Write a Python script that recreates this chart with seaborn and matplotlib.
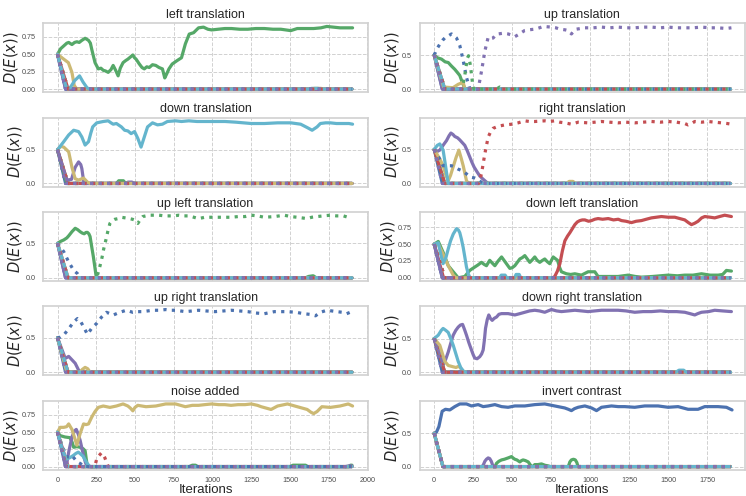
import matplotlib
matplotlib.use("Agg")
import matplotlib.pyplot as plt
import seaborn as sns
from matplotlib.ticker import FormatStrFormatter

# Classic seaborn "deep" colours, one per model output
COLOURS = {
    "blue": "#4C72B0", "green": "#55A868", "red": "#C44E52",
    "purple": "#8172B2", "yellow": "#CCB974", "cyan": "#64B5CD",
}
SOLID_ORDER = ["blue", "green", "red", "purple", "yellow", "cyan"]
DOTTED_ORDER = ["blue", "green", "yellow", "cyan", "red", "purple"]
STYLES = {"solid": "-", "dotted": ":"}

# Curves that fall straight from the starting value of 0.5 to zero
DROP_FAST = [(0, 0.5), (52, 0.0), (1900, 0.0)]
DROP_SLOW = [(0, 0.5), (68, 0.0), (1900, 0.0)]
DROP_INVERT = [(0, 0.5), (56, 0.0), (1900, 0.0)]

# ---- left translation ----
LEFT_GREEN = [(0, .50), (20, .58), (40, .62), (60, .66), (72, .67), (93, .64), (110, .67), (125, .68),
              (140, .67), (157, .70), (178, .73), (200, .70), (212, .66), (221, .57), (232, .47), (242, .38),
              (263, .29), (280, .30), (295, .27), (310, .26), (327, .24), (345, .28), (359, .34), (375, .27),
              (391, .19), (405, .30), (423, .38), (440, .41), (454, .43), (470, .46), (486, .49), (497, .45),
              (507, .43), (528, .36), (545, .31), (560, .29), (576, .32), (592, .31), (613, .35), (634, .34),
              (655, .31), (677, .29), (692, .16), (705, .22), (719, .29), (740, .36), (772, .41), (800, .45),
              (825, .65), (850, .79), (878, .81), (910, .88), (942, .89), (970, .86), (995, .85), (1037, .86),
              (1080, .87), (1122, .87), (1175, .86), (1228, .86), (1280, .87), (1335, .87), (1390, .86),
              (1441, .86), (1505, .84), (1547, .87), (1600, .87), (1653, .87), (1700, .88), (1738, .90),
              (1780, .89), (1823, .88), (1870, .88), (1904, .88)]
LEFT_YELLOW = [(0, .5), (40, .43), (70, .38), (93, .24), (108, .05), (125, 0), (1630, 0), (1660, .01),
               (1700, .01), (1720, 0), (1900, 0)]
LEFT_CYAN = [(0, .5), (55, .03), (82, .02), (110, .12), (142, .19), (165, .10), (190, .02), (205, 0),
             (1620, 0), (1640, .01), (1680, .01), (1700, 0), (1900, 0)]

# ---- up translation ----
UP_PURPLE_DOT = [(0, .5), (60, 0), (282, 0), (304, .27), (325, .56), (346, .76), (360, .74), (378, .75),
                 (395, .80), (410, .81), (442, .82), (474, .81), (500, .79), (517, .77), (540, .80),
                 (560, .83), (580, .86), (603, .87), (646, .88), (675, .90), (700, .92), (752, .91),
                 (780, .90), (806, .88), (840, .87), (859, .86), (880, .81), (895, .85), (912, .88),
                 (966, .90), (1020, .90), (1073, .91), (1125, .90), (1179, .91), (1230, .90), (1286, .90),
                 (1340, .91), (1393, .91), (1450, .90), (1500, .91), (1555, .90), (1607, .90), (1660, .90),
                 (1714, .91), (1770, .90), (1821, .90), (1870, .89), (1906, .90)]
UP_BLUE_DOT = [(0, .5), (20, .60), (36, .66), (55, .72), (68, .75), (90, .78), (111, .81), (128, .78),
               (143, .75), (164, .64), (186, .42), (207, .17), (228, .01), (240, 0), (780, 0), (790, .02),
               (800, 0), (1900, 0)]
UP_GREEN_DOT = [(0, .5), (70, 0), (180, 0), (196, .20), (212, .45), (220, .49), (232, .35), (245, .10),
                (255, 0), (400, 0), (420, .03), (440, 0), (1900, 0)]
UP_GREEN = [(0, .5), (20, .46), (47, .44), (70, .40), (90, .39), (110, .34), (132, .29), (150, .24),
            (164, .20), (180, .10), (196, .01), (210, 0), (1900, 0)]
UP_YELLOW = [(0, .5), (60, .03), (120, .02), (154, .07), (186, .10), (196, 0), (1900, 0)]

# ---- down translation ----
DOWN_CYAN = [(0, .5), (20, .56), (40, .62), (72, .72), (104, .79), (120, .78), (136, .77), (157, .69),
             (178, .57), (200, .62), (215, .75), (227, .84), (253, .90), (295, .92), (327, .93), (345, .90),
             (359, .88), (380, .89), (412, .84), (433, .79), (454, .78), (475, .74), (497, .77), (518, .67),
             (539, .54), (560, .69), (581, .84), (613, .90), (645, .87), (677, .88), (709, .92), (762, .93),
             (800, .92), (847, .93), (900, .92), (953, .92), (1020, .92), (1081, .92), (1150, .91),
             (1200, .90), (1250, .89), (1335, .89), (1420, .90), (1505, .90), (1569, .88), (1611, .83),
             (1643, .79), (1675, .84), (1696, .89), (1730, .90), (1760, .90), (1800, .89), (1845, .89),
             (1880, .89), (1904, .88)]
DOWN_YELLOW = [(0, .5), (20, .55), (40, .54), (72, .47), (93, .24), (114, .07), (136, .05), (168, .08),
               (193, .02), (210, 0), (1900, 0)]
DOWN_PURPLE = [(0, .5), (60, .05), (90, .06), (114, .24), (136, .32), (150, .28), (157, .22), (168, .04),
               (180, 0), (440, 0), (455, .02), (480, .02), (495, 0), (1900, 0)]
DOWN_GREEN = [(0, .5), (60, 0), (380, 0), (395, .04), (425, .04), (440, 0), (1900, 0)]

# ---- right translation ----
RIGHT_RED_DOT = [(0, .5), (65, 0), (285, 0), (303, .14), (325, .44), (346, .68), (362, .76), (378, .81),
                 (410, .84), (453, .86), (496, .87), (538, .89), (581, .92), (610, .91), (645, .91),
                 (709, .92), (740, .91), (773, .92), (805, .90), (837, .89), (860, .88), (880, .87),
                 (923, .90), (987, .89), (1030, .90), (1073, .91), (1125, .90), (1179, .89), (1230, .90),
                 (1286, .89), (1340, .90), (1393, .91), (1450, .90), (1500, .91), (1555, .90), (1607, .88),
                 (1628, .86), (1650, .88), (1671, .91), (1715, .90), (1756, .91), (1800, .90), (1842, .89),
                 (1880, .88), (1906, .87)]
RIGHT_PURPLE = [(0, .5), (20, .47), (36, .49), (60, .57), (79, .63), (95, .70), (107, .74), (120, .72),
                (132, .69), (150, .67), (164, .64), (180, .60), (196, .56), (212, .48), (228, .39),
                (242, .31), (256, .24), (275, .17), (292, .11), (310, .07), (325, .04), (345, 0), (1900, 0)]
RIGHT_CYAN = [(0, .5), (20, .56), (36, .58), (57, .49), (70, .30), (79, .16), (90, 0), (1900, 0)]
RIGHT_YELLOW = [(0, .5), (36, .36), (57, .26), (75, .12), (90, .04), (105, .12), (121, .24), (140, .38),
                (158, .49), (172, .38), (186, .26), (207, .04), (220, 0), (850, 0), (865, .03), (890, .03),
                (905, 0), (1900, 0)]
RIGHT_BLUE_DOT = [(0, .5), (30, .38), (57, .26), (85, .26), (111, .26), (132, .24), (154, .21), (175, .19),
                  (196, .16), (218, .12), (239, .09), (260, .08), (282, .06), (300, .02), (315, 0), (1900, 0)]

# ---- up left translation ----
UL_GREEN = [(0, .5), (20, .53), (40, .55), (60, .58), (72, .61), (93, .67), (114, .72), (130, .70),
            (146, .67), (160, .65), (172, .64), (184, .66), (193, .66), (202, .64), (210, .60), (220, .46),
            (231, .31), (240, .17), (248, .04), (257, 0), (1600, 0), (1620, .02), (1650, .03), (1670, 0),
            (1900, 0)]
UL_GREEN_DOT = [(0, .5), (65, 0), (253, 0), (268, .12), (284, .26), (298, .42), (312, .55), (325, .68),
                (338, .79), (352, .83), (369, .85), (390, .86), (412, .88), (440, .87), (465, .86),
                (485, .85), (497, .84), (510, .80), (518, .79), (535, .85), (550, .89), (570, .90),
                (592, .91), (620, .91), (655, .91), (690, .90), (719, .90), (750, .90), (783, .91),
                (815, .90), (847, .90), (880, .88), (910, .86), (950, .88), (995, .88), (1040, .88),
                (1081, .88), (1120, .88), (1166, .89), (1210, .89), (1250, .91), (1290, .90), (1335, .88),
                (1400, .89), (1462, .91), (1505, .89), (1547, .88), (1580, .87), (1611, .86), (1640, .88),
                (1675, .89), (1715, .90), (1760, .91), (1800, .90), (1845, .90), (1888, .87)]
UL_BLUE_DOT = [(0, .5), (40, .38), (72, .23), (104, .11), (129, .06), (146, 0), (1900, 0)]

# ---- down left translation ----
DL_RED = [(0, .5), (60, 0), (760, 0), (773, .02), (790, .10), (806, .21), (822, .40), (838, .55),
          (855, .62), (870, .67), (886, .73), (902, .79), (918, .83), (934, .85), (950, .86), (966, .86),
          (990, .84), (1009, .85), (1030, .87), (1051, .88), (1080, .87), (1116, .88), (1150, .86),
          (1180, .87), (1201, .85), (1230, .84), (1265, .82), (1295, .84), (1329, .85), (1360, .87),
          (1393, .89), (1425, .90), (1457, .91), (1500, .90), (1543, .90), (1575, .88), (1607, .86),
          (1630, .82), (1650, .79), (1670, .81), (1692, .84), (1715, .89), (1735, .91), (1770, .90),
          (1799, .89), (1830, .91), (1863, .93), (1885, .92), (1906, .91)]
DL_CYAN = [(0, .5), (26, .52), (45, .32), (57, .21), (75, .30), (90, .43), (105, .55), (122, .65),
           (143, .73), (155, .71), (164, .67), (175, .57), (186, .45), (197, .30), (207, .16), (218, .06),
           (228, .01), (240, 0), (420, 0), (430, .04), (455, .04), (465, 0), (515, 0), (525, .05),
           (545, .05), (555, 0), (1900, 0)]
DL_GREEN = [(0, .5), (26, .54), (57, .38), (90, .18), (122, .09), (154, 0), (196, .02), (228, .11),
            (260, .16), (280, .19), (303, .23), (320, .20), (335, .18), (356, .26), (372, .22), (389, .18),
            (410, .25), (432, .31), (457, .23), (485, .14), (500, .15), (517, .18), (549, .28), (565, .30),
            (581, .33), (600, .27), (613, .23), (630, .27), (645, .31), (660, .26), (677, .23), (695, .26),
            (709, .28), (725, .24), (741, .21), (763, .31), (791, .26), (805, .15), (816, .09), (848, .06),
            (875, .05), (902, .06), (944, .04), (987, .09), (1030, .09), (1051, .02), (1100, .02),
            (1179, .02), (1244, .04), (1290, .02), (1329, .01), (1400, .02), (1450, .03), (1500, .04),
            (1560, .03), (1607, .04), (1660, .04), (1714, .06), (1770, .04), (1821, .04), (1850, .05),
            (1874, .11), (1906, .10)]
DL_YELLOW = [(0, .5), (26, .5), (57, .35), (90, .18), (122, .04), (140, 0), (1900, 0)]

# ---- up right translation ----
UR_BLUE_DOT = [(0, .5), (20, .51), (40, .54), (72, .63), (104, .73), (129, .78), (146, .75), (168, .66),
               (193, .55), (221, .64), (253, .71), (284, .80), (316, .87), (340, .85), (359, .83),
               (380, .85), (401, .87), (444, .90), (486, .87), (520, .88), (550, .88), (613, .90),
               (650, .90), (698, .91), (730, .90), (762, .90), (825, .88), (870, .89), (910, .90),
               (960, .89), (1016, .88), (1070, .89), (1122, .90), (1175, .89), (1228, .88), (1280, .86),
               (1335, .85), (1399, .88), (1440, .88), (1484, .88), (1540, .87), (1590, .85), (1630, .84),
               (1665, .82), (1696, .87), (1738, .90), (1770, .89), (1802, .88), (1840, .87), (1866, .85),
               (1898, .88)]
UR_PURPLE = [(0, .5), (50, .20), (72, .23), (93, .18), (114, .13), (136, .03), (150, 0), (1900, 0)]
UR_YELLOW = [(0, .5), (60, 0), (145, 0), (160, .04), (178, .07), (195, .05), (210, 0), (1900, 0)]

# ---- down right translation ----
DR_PURPLE = [(0, .5), (40, .25), (57, .11), (75, .20), (90, .30), (106, .43), (122, .55), (138, .62),
             (154, .67), (168, .70), (182, .71), (195, .63), (207, .55), (222, .44), (239, .33), (250, .26),
             (260, .21), (275, .20), (292, .23), (304, .27), (314, .33), (322, .48), (329, .65), (340, .78),
             (350, .85), (360, .80), (372, .77), (385, .80), (400, .82), (415, .86), (432, .87), (474, .87),
             (495, .86), (517, .85), (550, .87), (581, .89), (612, .91), (645, .92), (675, .91), (709, .89),
             (730, .91), (752, .93), (785, .91), (816, .90), (860, .91), (902, .92), (945, .91), (987, .90),
             (1030, .91), (1073, .92), (1125, .92), (1179, .92), (1230, .91), (1286, .89), (1340, .90),
             (1393, .90), (1450, .91), (1500, .90), (1555, .90), (1607, .89), (1640, .87), (1671, .85),
             (1690, .87), (1714, .89), (1760, .90), (1799, .92), (1850, .91), (1906, .90)]
DR_CYAN = [(0, .5), (26, .55), (45, .62), (57, .65), (75, .62), (90, .59), (106, .50), (122, .40),
           (138, .28), (154, .16), (170, .07), (186, .02), (200, 0), (1550, 0), (1570, .03), (1600, .03),
           (1615, 0), (1900, 0)]
DR_YELLOW = [(0, .5), (36, .40), (52, .28), (68, .16), (90, .10), (122, .08), (140, .07), (158, .09),
             (172, .05), (186, .01), (200, 0), (1900, 0)]

# ---- noise added ----
NOISE_YELLOW = [(0, .5), (17, .57), (40, .57), (59, .58), (72, .62), (93, .54), (110, .42), (125, .31),
                (136, .40), (146, .48), (168, .62), (185, .61), (200, .62), (221, .72), (242, .80),
                (263, .86), (295, .88), (338, .86), (380, .88), (423, .91), (454, .88), (470, .85),
                (486, .81), (500, .86), (518, .89), (571, .87), (634, .88), (698, .91), (762, .91),
                (825, .87), (870, .89), (910, .89), (950, .90), (995, .91), (1040, .90), (1080, .90),
                (1120, .89), (1165, .90), (1210, .90), (1250, .91), (1290, .89), (1314, .87), (1378, .83),
                (1420, .88), (1484, .91), (1547, .87), (1611, .83), (1635, .79), (1653, .77), (1675, .80),
                (1706, .87), (1760, .86), (1823, .88), (1876, .91), (1904, .88)]
NOISE_PURPLE = [(0, .5), (25, .30), (40, .16), (50, 0), (60, .05), (72, .21), (93, .43), (110, .52),
                (121, .54), (134, .47), (146, .38), (157, .27), (168, .16), (180, .06), (189, .01), (200, 0),
                (1860, 0), (1880, .01), (1900, .01)]
NOISE_GREEN = [(0, .5), (17, .45), (48, .43), (80, .42), (95, .35), (104, .28), (125, .29), (146, .28),
               (165, .26), (178, .23), (186, .10), (193, 0), (850, 0), (870, .02), (890, .02), (905, 0),
               (1500, 0), (1520, .02), (1600, .02), (1615, 0), (1880, 0), (1890, .02), (1900, .02)]
NOISE_CYAN = [(0, .5), (15, .38), (27, .28), (45, .17), (59, .11), (80, .13), (101, .16), (118, .19),
              (134, .21), (150, .18), (165, .15), (180, .09), (193, .04), (210, 0), (1900, 0)]
NOISE_BLUE_DOT = [(0, .5), (30, .30), (59, .14), (75, .14), (93, .16), (115, .10), (134, .06), (150, .04),
                  (165, 0), (1900, 0)]
NOISE_RED_DOT = [(0, .5), (55, 0), (240, 0), (253, .11), (268, .16), (284, .20), (295, .17), (305, .13),
                 (315, .07), (327, 0), (1900, 0)]

# ---- invert contrast ----
INV_BLUE = [(0, .5), (15, .52), (30, .60), (51, .83), (72, .86), (100, .85), (132, .90), (164, .94),
            (207, .94), (239, .91), (260, .92), (282, .93), (314, .90), (346, .91), (389, .93), (432, .90),
            (474, .89), (517, .91), (581, .91), (645, .93), (709, .94), (773, .91), (837, .88), (860, .86),
            (880, .84), (900, .87), (923, .89), (966, .91), (1009, .88), (1041, .84), (1073, .89),
            (1137, .91), (1180, .90), (1222, .90), (1286, .89), (1350, .91), (1436, .91), (1500, .89),
            (1564, .90), (1628, .86), (1660, .86), (1692, .86), (1735, .90), (1780, .90), (1820, .90),
            (1874, .89), (1910, .85)]
INV_PURPLE = [(0, .5), (56, 0), (305, 0), (314, .02), (325, .08), (335, .11), (346, .13), (356, .12),
              (366, .08), (378, 0), (1900, 0)]
INV_GREEN = [(0, .5), (56, 0), (390, 0), (400, .05), (415, .08), (432, .10), (450, .11), (474, .13),
             (496, .15), (505, .13), (517, .11), (530, .10), (549, .07), (560, .09), (570, .10), (585, .09),
             (603, .07), (615, .03), (624, 0), (632, 0), (645, .03), (665, .03), (688, .04), (710, .02),
             (731, .01), (745, 0), (860, 0), (870, .07), (880, .10), (893, .11), (905, .10), (915, .06),
             (922, 0), (1900, 0)]

PANEL_TITLES = [
    "left translation", "up translation",
    "down translation", "right translation",
    "up left translation", "down left translation",
    "up right translation", "down right translation",
    "noise added", "invert contrast",
]

# Curves that differ from a plain drop to zero, per panel: (colour, style) -> points
PANEL_CURVES = [
    {("green", "solid"): LEFT_GREEN, ("yellow", "solid"): LEFT_YELLOW, ("cyan", "solid"): LEFT_CYAN},
    {("purple", "dotted"): UP_PURPLE_DOT, ("blue", "dotted"): UP_BLUE_DOT,
     ("green", "dotted"): UP_GREEN_DOT, ("green", "solid"): UP_GREEN, ("yellow", "solid"): UP_YELLOW},
    {("cyan", "solid"): DOWN_CYAN, ("yellow", "solid"): DOWN_YELLOW,
     ("purple", "solid"): DOWN_PURPLE, ("green", "solid"): DOWN_GREEN},
    {("red", "dotted"): RIGHT_RED_DOT, ("purple", "solid"): RIGHT_PURPLE, ("cyan", "solid"): RIGHT_CYAN,
     ("yellow", "solid"): RIGHT_YELLOW, ("blue", "dotted"): RIGHT_BLUE_DOT},
    {("green", "solid"): UL_GREEN, ("green", "dotted"): UL_GREEN_DOT, ("blue", "dotted"): UL_BLUE_DOT},
    {("red", "solid"): DL_RED, ("cyan", "solid"): DL_CYAN, ("green", "solid"): DL_GREEN,
     ("yellow", "solid"): DL_YELLOW},
    {("blue", "dotted"): UR_BLUE_DOT, ("purple", "solid"): UR_PURPLE, ("yellow", "solid"): UR_YELLOW},
    {("purple", "solid"): DR_PURPLE, ("cyan", "solid"): DR_CYAN, ("yellow", "solid"): DR_YELLOW},
    {("yellow", "solid"): NOISE_YELLOW, ("purple", "solid"): NOISE_PURPLE, ("green", "solid"): NOISE_GREEN,
     ("cyan", "solid"): NOISE_CYAN, ("blue", "dotted"): NOISE_BLUE_DOT, ("red", "dotted"): NOISE_RED_DOT},
    {("blue", "solid"): INV_BLUE, ("purple", "solid"): INV_PURPLE, ("green", "solid"): INV_GREEN},
]

FOUR_TICK_PANELS = {"left translation", "noise added", "down left translation"}

sns.set_style("whitegrid", {"grid.linestyle": "--", "grid.color": ".82", "axes.edgecolor": ".82"})
plt.rcParams["font.family"] = ["Liberation Sans", "DejaVu Sans"]
plt.rcParams["axes.linewidth"] = 1.2
plt.rcParams["grid.linewidth"] = 0.7

fig, axes = plt.subplots(5, 2, figsize=(7.46, 4.96), dpi=100, sharex="col")
fig.subplots_adjust(left=0.058, right=0.998, top=0.953, bottom=0.053, hspace=0.37, wspace=0.16)

for idx, (title, curves) in enumerate(zip(PANEL_TITLES, PANEL_CURVES)):
    ax = axes.flat[idx]
    for style, order in (("solid", SOLID_ORDER), ("dotted", DOTTED_ORDER)):
        for colour in order:
            if (colour, style) in curves:
                pts = curves[(colour, style)]
            elif title == "invert contrast":
                pts = DROP_INVERT
            elif colour in ("blue", "purple"):
                pts = DROP_FAST
            else:
                pts = DROP_SLOW
            xs = [p[0] for p in pts]
            ys = [p[1] for p in pts]
            sns.lineplot(x=xs, y=ys, ax=ax, color=COLOURS[colour], linestyle=STYLES[style],
                         linewidth=2.3, sort=False, estimator=None)
    ax.set_title(title, fontsize=9, color=".15", pad=4)
    ax.set_ylabel("$D(E(x))$", fontsize=10.5, color=".15", labelpad=1)
    ax.set_xlabel("")
    if title in FOUR_TICK_PANELS:
        ax.set_yticks([0, 0.25, 0.5, 0.75])
        ax.yaxis.set_major_formatter(FormatStrFormatter("%.2f"))
    else:
        ax.set_yticks([0, 0.5])
        ax.yaxis.set_major_formatter(FormatStrFormatter("%.1f"))
    ax.tick_params(labelsize=5.2, colors=".3", pad=2)

for ax in axes[:, 0]:
    ax.set_xlim(-92, 2003)
    ax.set_xticks(range(0, 2001, 250))
for ax in axes[:, 1]:
    ax.set_xlim(-92, 1990)
    ax.set_xticks(range(0, 1751, 250))

for ax in axes[-1]:
    ax.set_xlabel("Iterations", fontsize=9.5, color=".15", labelpad=0)

fig.savefig("out.png", dpi=100)
